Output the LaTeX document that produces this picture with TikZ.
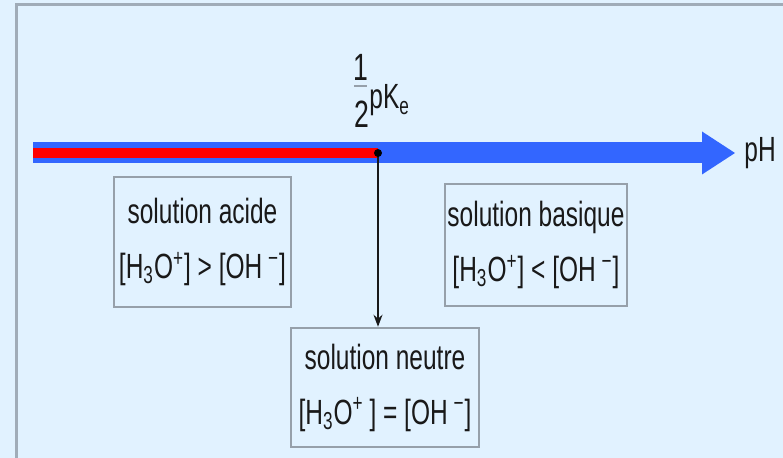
\documentclass[tikz,border=0pt]{standalone}
\usepackage{fontspec}
\setmainfont{Liberation Sans}[FakeStretch=0.7]
\usepackage{tikz}
\usetikzlibrary{arrows.meta,positioning}
\definecolor{phback}   {RGB}{225,242,255}
\definecolor{axisblue} {RGB}{51,102,255}
\definecolor{acidred}  {RGB}{255,0,0}
\definecolor{framegray}{RGB}{160,172,184}
\definecolor{boxgray}  {RGB}{150,160,170}
\definecolor{inkdark}  {RGB}{25,25,25}
\newcommand{\soltext}{\fontsize{17.5}{27.5}\selectfont}
\newcommand{\fractext}{\fontsize{19}{22}\selectfont}
\tikzset{
  solbox/.style={draw=boxgray, line width=1.25pt, fill=phback, align=center,
                 inner sep=0pt, minimum width=#1, font=\soltext, text=inkdark},
  solbox/.default=90pt,
  lbl/.style   ={inner sep=0pt, font=\soltext, text=inkdark},
  phaxis/.style={axisblue, line width=10.5pt,
                 -{Triangle[length=16.5pt, width=21.5pt, line width=0pt]}},
  acidbar/.style={acidred, line width=5pt},
  downarr/.style={-{Stealth[length=6pt, width=4.5pt]}, line width=0.8pt, inkdark},
  frameline/.style={framegray, line width=1.5pt},
}

\begin{document}
\begin{tikzpicture}[x=0.5pt, y=-0.5pt]
  \path[use as bounding box, fill=phback] (0,0) rectangle (783,458);
  \draw[frameline] (783,5) -- (16,5) -- (16,458);

  % pH axis
  \coordinate (phstart) at (33,153);
  \coordinate (neutral) at (378,153);
  \coordinate (phend)   at (735,153);
  \draw[phaxis] (phstart) -- (phend);
  \draw[acidbar] (phstart) -- (neutral);
  \node[lbl, right=4.5pt of phend] (phlabel) {pH};

  % 1/2 pKe
  \node[lbl, font=\fractext] (one) at (361,67)  {1};
  \node[lbl, font=\fractext] (two) at (362,114) {2};
  \draw[boxgray, line width=0.8pt] (354,86) -- (367,86);
  \node[lbl, anchor=base west] (pke) at (369,109) {pK\textsubscript{e}};

  % boxes
  \node[solbox=88.5pt, minimum height=65pt] (acide) at (202.5,242)
        {solution acide\\{[}H\textsubscript{3}O\textsuperscript{+}] > [OH\,\textsuperscript{−}]};
  \node[solbox=91pt, minimum height=61pt] (basique) at (536,245)
        {solution basique\\{[}H\textsubscript{3}O\textsuperscript{+}] < [OH\,\textsuperscript{−}]};
  \node[solbox=94pt, minimum height=59.5pt] (neutre) at (385,387.5)
        {solution neutre\\{[}H\textsubscript{3}O\textsuperscript{+}\,] = [OH\,\textsuperscript{−}]};

  \draw[downarr] (neutral) -- (neutre.north -| neutral);
  \fill[black] (neutral) circle (2pt);
\end{tikzpicture}
\end{document}
